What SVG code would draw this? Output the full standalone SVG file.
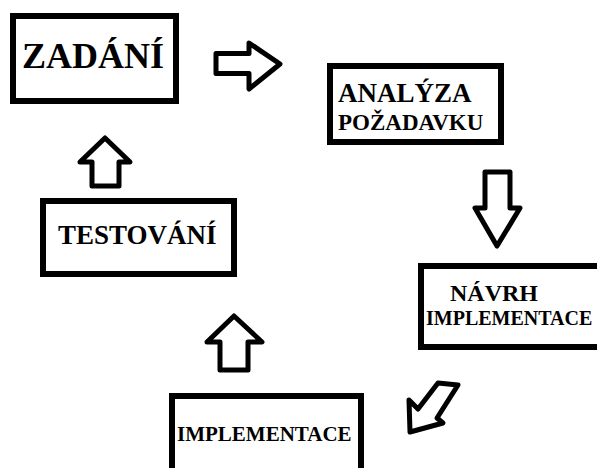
<svg xmlns="http://www.w3.org/2000/svg" width="597" height="468" viewBox="0 0 597 468">
<style>
.box{fill:#fff;stroke:#000;stroke-width:6}
.arr{fill:#fff;stroke:#000;stroke-width:5;stroke-linejoin:round}
</style>
<rect width="597" height="468" fill="#fff"/>
<g id="connectors">
<path class="arr" d="M216,53.5 H249 V43 L280,64 L249,89 V73.5 H216 Z"/>
<path class="arr" d="M485,172 H510 V208 H520 L497,246 L475,208 H485 Z"/>
<path class="arr" d="M410,432 L409,400 L418,409 L438,383 L458,385 L437,418 L443,423 Z"/>
<path class="arr" d="M220,370 V342 H207 L234,316 L262,342 H248 V370 Z"/>
<path class="arr" d="M92,186 V162 H80 L105,138 L130,162 H119 V186 Z"/>
</g>
<g font-family="Liberation Serif, serif" font-weight="700" fill="#000">
<g id="zadani">
<rect class="box" x="13" y="16" width="163" height="85"/>
<text x="22" y="68" font-size="36">ZADÁNÍ</text>
</g>
<g id="analyza">
<rect class="box" x="330" y="66" width="171" height="76"/>
<text x="338" y="102" font-size="27">ANALÝZA</text>
<text x="338" y="130" font-size="23">POŽADAVKU</text>
</g>
<g id="navrh">
<rect class="box" x="421" y="266" width="200" height="81"/>
<text x="450" y="301" font-size="24">NÁVRH</text>
<text x="426" y="325" font-size="20">IMPLEMENTACE</text>
</g>
<g id="implementace">
<rect class="box" x="172" y="396" width="189" height="100"/>
<text x="177" y="441" font-size="21">IMPLEMENTACE</text>
</g>
<g id="testovani">
<rect class="box" x="43" y="201" width="191" height="73"/>
<text x="58" y="244" font-size="27">TESTOVÁNÍ</text>
</g>
</g>
</svg>
